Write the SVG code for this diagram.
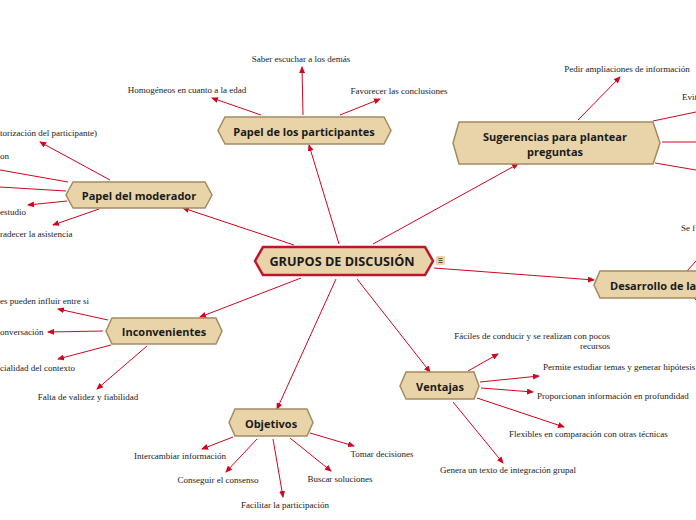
<svg xmlns="http://www.w3.org/2000/svg" width="696" height="520" viewBox="0 0 696 520">
<style>
.node{fill:#e8d4a8;stroke:#a38b5e;stroke-width:1.5}
.main{fill:#e8d4a8;stroke:#c0142c;stroke-width:2.5}
.nt{font-family:"Open Sans","Noto Sans",sans-serif;font-weight:bold;font-size:11px;fill:#1a1a1a;text-anchor:middle;dominant-baseline:central}
.lt{font-family:"Liberation Serif","Times New Roman",serif;font-size:9px;fill:#222}
.c line{stroke:#d0061e;stroke-width:1;marker-end:url(#ar)}
.c line.n{marker-end:none}
</style>
<defs>
<marker id="ar" markerUnits="userSpaceOnUse" markerWidth="7" markerHeight="6" refX="6" refY="3" orient="auto">
<path d="M0,0 L7,3 L0,6 z" fill="#d0061e"/>
</marker>
</defs>
<rect width="696" height="520" fill="#fff"/>
<g class="c" id="connectors">
<line x1="339" y1="244" x2="309" y2="145"/>
<line x1="373" y1="244" x2="518" y2="164"/>
<line x1="294" y1="245" x2="183" y2="208"/>
<line x1="434" y1="268" x2="594" y2="280"/>
<line x1="301" y1="278" x2="200" y2="317"/>
<line x1="336" y1="279" x2="277" y2="409"/>
<line x1="357" y1="279" x2="430" y2="372"/>
<line x1="261" y1="115" x2="212" y2="98"/>
<line x1="303" y1="115" x2="302" y2="67"/>
<line x1="340" y1="115" x2="380" y2="99"/>
<line x1="578" y1="120" x2="620" y2="77"/>
<line class="n" x1="653" y1="121" x2="696" y2="112"/>
<line class="n" x1="662" y1="142" x2="696" y2="142"/>
<line class="n" x1="655" y1="163" x2="696" y2="170"/>
<line class="n" x1="687" y1="271" x2="696" y2="261"/>
<line class="n" x1="694" y1="298" x2="696" y2="300"/>
<line x1="110" y1="180" x2="40" y2="142"/>
<line class="n" x1="68" y1="182" x2="0" y2="170"/>
<line class="n" x1="66" y1="191" x2="0" y2="187"/>
<line x1="67" y1="201" x2="28" y2="205"/>
<line x1="99" y1="209" x2="53" y2="225"/>
<line x1="108" y1="320" x2="58" y2="309"/>
<line x1="103" y1="331" x2="48" y2="332"/>
<line x1="111" y1="345" x2="58" y2="359"/>
<line x1="147" y1="346" x2="97" y2="389"/>
<line x1="233" y1="437" x2="202" y2="449"/>
<line x1="257" y1="439" x2="226" y2="472"/>
<line x1="273" y1="439" x2="283" y2="497"/>
<line x1="290" y1="438" x2="331" y2="471"/>
<line x1="310" y1="433" x2="354" y2="446"/>
<line x1="468" y1="371" x2="498" y2="354"/>
<line x1="480" y1="382" x2="539" y2="376"/>
<line x1="481" y1="388" x2="533" y2="392"/>
<line x1="477" y1="398" x2="564" y2="427"/>
<line x1="453" y1="402" x2="503" y2="463"/>
</g>
<g id="center">
<polygon class="main" points="255,261 263,247 425,247 433,261 425,275 263,275"/>
<text class="nt" x="342" y="261" style="font-size:12.7px">GRUPOS DE DISCUSIÓN</text>
<rect x="436" y="256" width="9" height="9" rx="1" fill="#e8d4a8"/>
<path d="M438.5,258.5h4M438.5,260.5h4M438.5,262.5h4" stroke="#333" stroke-width="0.8"/>
</g>
<g id="participantes">
<polygon class="node" points="218,130.5 225,117 384,117 391,130.5 384,144 225,144"/>
<text class="nt" x="304" y="131">Papel de los participantes</text>
</g>
<g id="sugerencias">
<polygon class="node" points="453,143 459,122 653,122 660,143 653,164 459,164"/>
<text class="nt" x="555" y="136">Sugerencias para plantear</text>
<text class="nt" x="555" y="151">preguntas</text>
</g>
<g id="moderador">
<polygon class="node" points="66,195 73,182 205,182 212,195 205,208 73,208"/>
<text class="nt" x="139" y="195">Papel del moderador</text>
</g>
<g id="desarrollo">
<polygon class="node" points="594,285 600,271 700,271 700,298 600,298"/>
<text class="nt" x="610" y="285" style="text-anchor:start">Desarrollo de la</text>
</g>
<g id="inconvenientes">
<polygon class="node" points="106,331 112,318 216,318 222,331 216,344 112,344"/>
<text class="nt" x="164" y="331">Inconvenientes</text>
</g>
<g id="objetivos">
<polygon class="node" points="229,422.5 235,409 307,409 313,422.5 307,436 235,436"/>
<text class="nt" x="271" y="423">Objetivos</text>
</g>
<g id="ventajas">
<polygon class="node" points="400,386 406,372 474,372 479,386 474,399 406,399"/>
<text class="nt" x="440" y="386">Ventajas</text>
</g>
<g id="leaves">
<text class="lt" x="187" y="93" text-anchor="middle">Homogéneos en cuanto a la edad</text>
<text class="lt" x="301" y="62" text-anchor="middle">Saber escuchar a los demás</text>
<text class="lt" x="399" y="94" text-anchor="middle">Favorecer las conclusiones</text>
<text class="lt" x="627" y="72" text-anchor="middle">Pedir ampliaciones de información</text>
<text class="lt" x="682" y="100">Evit</text>
<text class="lt" x="681" y="231">Se f</text>
<text class="lt" x="0" y="136">torización del participante)</text>
<text class="lt" x="0" y="159">on</text>
<text class="lt" x="0" y="215">estudio</text>
<text class="lt" x="0" y="237">radecer la asistencia</text>
<text class="lt" x="0" y="304">es pueden influir entre si</text>
<text class="lt" x="0" y="335">onversación</text>
<text class="lt" x="0" y="371">cialidad del contexto</text>
<text class="lt" x="88" y="400" text-anchor="middle">Falta de validez y fiabilidad</text>
<text class="lt" x="180" y="459" text-anchor="middle">Intercambiar información</text>
<text class="lt" x="218" y="483" text-anchor="middle">Conseguir el consenso</text>
<text class="lt" x="285" y="508" text-anchor="middle">Facilitar la participación</text>
<text class="lt" x="340" y="482" text-anchor="middle">Buscar soluciones</text>
<text class="lt" x="382" y="457" text-anchor="middle">Tomar decisiones</text>
<text class="lt" x="610" y="339" text-anchor="end">Fáciles de conducir y se realizan con pocos</text>
<text class="lt" x="610" y="349" text-anchor="end">recursos</text>
<text class="lt" x="543" y="370">Permite estudiar temas y generar hipótesis</text>
<text class="lt" x="537" y="399">Proporcionan información en profundidad</text>
<text class="lt" x="509" y="437">Flexibles en comparación con otras técnicas</text>
<text class="lt" x="508" y="473" text-anchor="middle">Genera un texto de integración grupal</text>
</g>
</svg>
